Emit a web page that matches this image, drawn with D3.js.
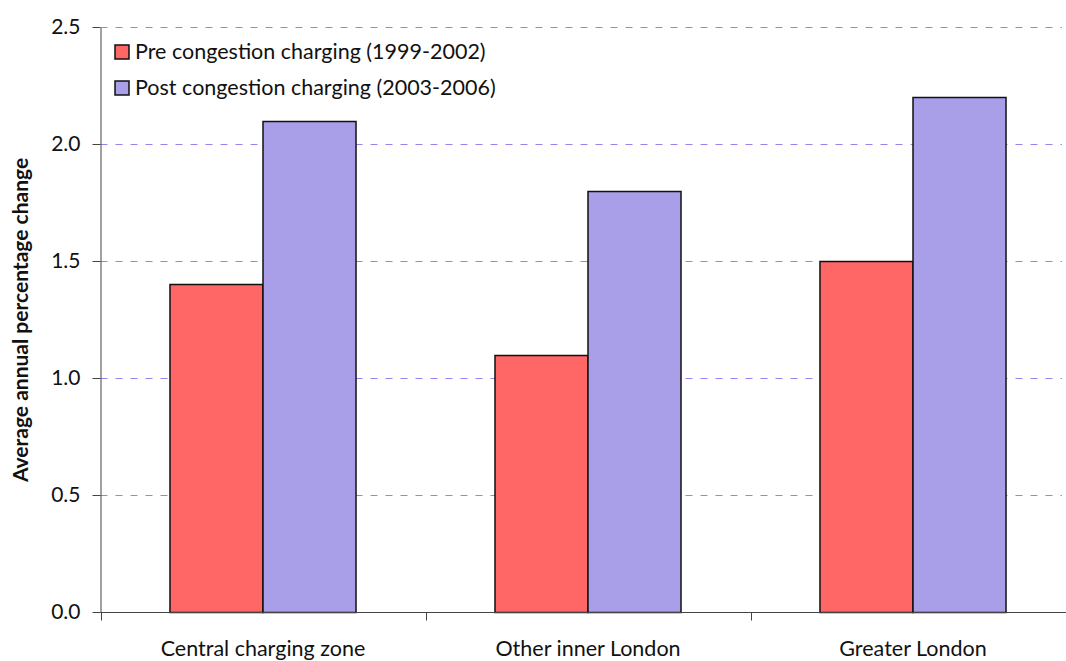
<!DOCTYPE html>
<html><head><meta charset="utf-8">
<script src="https://cdn.jsdelivr.net/npm/d3@7"></script>
<style>
html,body{margin:0;padding:0;background:#fff;}
svg{display:block;font-family:Lato,"Open Sans",sans-serif;}
</style></head>
<body>
<svg id="chart" width="1066" height="661"></svg>
<script>
const categories = ["Central charging zone", "Other inner London", "Greater London"];
const seriesNames = ["Pre congestion charging (1999-2002)", "Post congestion charging (2003-2006)"];
const preValues = [1.4, 1.1, 1.5];
const postValues = [2.1, 1.8, 2.2];
const yTicks = [0, 0.5, 1.0, 1.5, 2.0, 2.5];
const colors = ["#FF6666", "#A99FE8"];

const svg = d3.select("#chart");
const mLeft = 100.5, mRight = 1075.5, mTop = 27.5, mBottom = 612.5;

const x = d3.scaleBand().domain(categories).range([mLeft, mRight]).padding(0);
const x1 = d3.scaleBand().domain(seriesNames).range([0, x.bandwidth()]).paddingInner(0).paddingOuter(0.747);
const y = d3.scaleLinear().domain([0, 2.5]).range([mBottom, mTop]);
const yc = d => Math.round(y(d) - 0.5) + 0.5;

// gridlines
svg.append("g").selectAll("line").data(yTicks.filter(d => d > 0)).join("line")
  .attr("x1", mLeft).attr("x2", 1062)
  .attr("y1", d => yc(d)).attr("y2", d => yc(d))
  .attr("stroke", "#9F7FF0").attr("stroke-width", 1).attr("stroke-dasharray", "7,8");

// bars
const data = categories.map((c, i) => ({cat: c, vals: [preValues[i], postValues[i]]}));
const g = svg.append("g").selectAll("g").data(data).join("g")
  .attr("transform", d => `translate(${x(d.cat)},0)`);
g.selectAll("rect").data(d => d.vals.map((v, j) => ({s: seriesNames[j], v, j}))).join("rect")
  .attr("x", d => x1(d.s)).attr("width", x1.bandwidth())
  .attr("y", d => yc(d.v)).attr("height", d => yc(0) - yc(d.v))
  .attr("fill", d => colors[d.j]).attr("stroke", "#111").attr("stroke-width", 1.5);

// y axis
const yAxis = d3.axisLeft(y).tickValues(yTicks).tickFormat(d3.format(".1f")).tickSize(8).tickSizeOuter(0).tickPadding(12);
const ya = svg.append("g").attr("transform", `translate(${mLeft},0)`).call(yAxis);
ya.select(".domain").attr("stroke", "#444");
ya.selectAll(".tick").attr("transform", d => `translate(0,${yc(d)})`);
ya.selectAll(".tick line").attr("stroke", "#444");
ya.selectAll("text").attr("font-size", 21).attr("fill", "#111").attr("font-family", "Lato,sans-serif");

// x axis
svg.append("line").attr("x1", mLeft).attr("x2", 1066).attr("y1", yc(0)).attr("y2", yc(0)).attr("stroke", "#444");
svg.append("g").selectAll("line").data(categories).join("line")
  .attr("x1", d => Math.round(x(d)) + 0.5).attr("x2", d => Math.round(x(d)) + 0.5)
  .attr("y1", yc(0)).attr("y2", yc(0) + 8).attr("stroke", "#444");
svg.append("g").selectAll("text").data(categories).join("text")
  .attr("x", d => x(d) + x.bandwidth() / 2).attr("y", 656)
  .attr("text-anchor", "middle").attr("font-size", 21.5).attr("fill", "#111").text(d => d);

// y title
svg.append("text").attr("transform", `translate(28,${(mTop + mBottom) / 2}) rotate(-90)`)
  .attr("text-anchor", "middle").attr("font-size", 21).attr("font-weight", "bold").attr("fill", "#111")
  .text("Average annual percentage change");

// legend
const lg = svg.append("g").selectAll("g").data(seriesNames).join("g")
  .attr("transform", (d, i) => `translate(115,${45 + i * 36})`);
lg.append("rect").attr("width", 14).attr("height", 14).attr("fill", (d, i) => colors[i]).attr("stroke", "#111").attr("stroke-width", 1.5);
lg.append("text").attr("x", 20).attr("y", 14).attr("font-size", 21.5).attr("fill", "#111").text(d => d);
</script>
</body></html>
